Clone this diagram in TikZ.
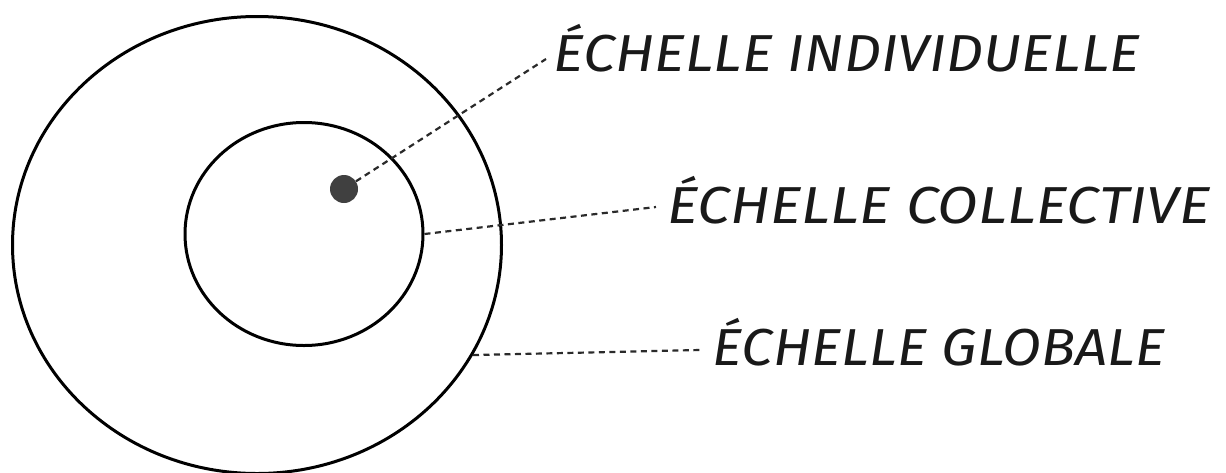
\documentclass[tikz,border=0pt]{standalone}
\usepackage{fontspec}
\usepackage{graphicx}
\setmainfont{Fira Sans}
\usetikzlibrary{shapes.geometric}
\definecolor{dotgray}{HTML}{404040}
\definecolor{dashgray}{HTML}{2A2A2A}
\tikzset{
  ring/.style={ellipse, draw=black, line width=3pt, inner sep=0pt},
  leader/.style={draw=dashgray, line width=2.2pt, dash pattern=on 6pt off 4.5pt},
  lab/.style={anchor=base west, inner sep=0pt, font=\fontsize{52}{56}\selectfont\itshape, text=black!90}
}
\begin{document}
\begin{tikzpicture}[x=1pt,y=-1pt]
\useasboundingbox (0,0) rectangle (1226,472);
\clip (0,0) rectangle (1226,472);
\node[ring, minimum width=489pt, minimum height=457pt] (outer) at (257,245) {};
\node[ring, minimum width=238pt, minimum height=223pt] (inner) at (304,234) {};
\node[circle, fill=dotgray, minimum size=28pt, inner sep=0pt] (dot) at (344,189) {};
\node[lab] (t1) at (553,71) {\resizebox{587pt}{\height}{ÉCHELLE INDIVIDUELLE}};
\node[lab] (t2) at (667,223) {\resizebox{543pt}{\height}{ÉCHELLE COLLECTIVE}};
\node[lab] (t3) at (712,365) {\resizebox{453pt}{\height}{ÉCHELLE GLOBALE}};
\coordinate (e1) at (546,59);
\coordinate (e2) at (656,207);
\coordinate (e3) at (700,350);
\draw[leader] (dot) -- (e1);
\draw[leader] (inner.east) -- (e2);
\draw[leader] (outer.-27) -- (e3);
\end{tikzpicture}
\end{document}
